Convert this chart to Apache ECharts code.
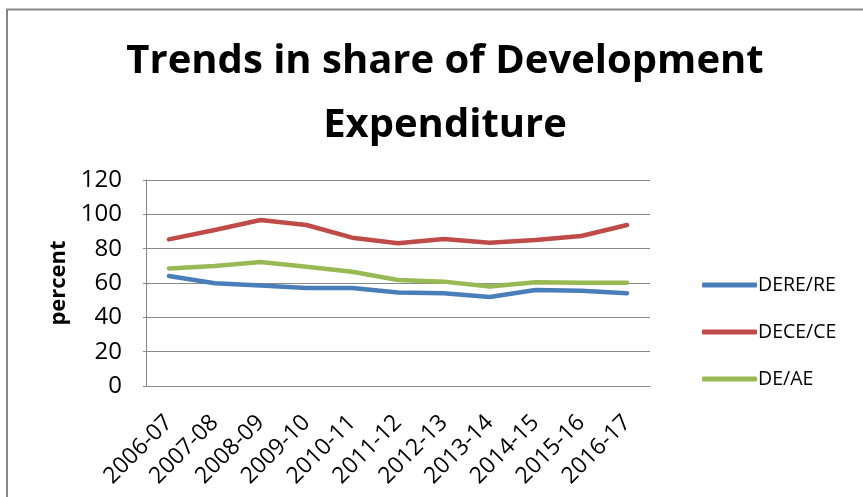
<!DOCTYPE html>
<html><head><meta charset="utf-8">
<script src="https://cdn.jsdelivr.net/npm/echarts@6/dist/echarts.min.js"></script>
<style>html,body{margin:0;padding:0;background:#fff}#c{width:863px;height:497px}</style>
</head><body><div id="c"></div>
<script>
const categories = ['2006-07','2007-08','2008-09','2009-10','2010-11','2011-12','2012-13','2013-14','2014-15','2015-16','2016-17'];
const dereRe = [64.1, 59.8, 58.6, 57.1, 57.1, 54.4, 54.0, 51.8, 55.9, 55.5, 54.0];
const deceCe = [85.4, 90.9, 96.7, 93.8, 86.4, 83.1, 85.6, 83.5, 85.0, 87.4, 93.8];
const deAe = [68.5, 69.9, 72.2, 69.5, 66.6, 61.7, 60.8, 57.9, 60.4, 60.2, 60.2];
const seriesNames = ['DERE/RE','DECE/CE','DE/AE'];
const colors = ['#4a7ebb','#be4b48','#98b954'];
const FONT = '"Open Sans", "Liberation Sans", sans-serif';
const chart = echarts.init(document.getElementById('c'));
chart.setOption({
  animation:false,
  graphic:[{type:'polyline',shape:{points:[[7,497],[7,9.5],[863,9.5]]},style:{fill:'none',stroke:'#888',lineWidth:2},silent:true}],
  title:{text:'Trends in share of Development\nExpenditure',left:440,textAlign:'center',top:25,
    textStyle:{fontFamily:FONT,fontWeight:'bold',fontSize:40,lineHeight:64,color:'#000'}},
  legend:{orient:'vertical',left:697,top:270,itemWidth:55,itemHeight:5,itemGap:27,
    icon:'roundRect',
    textStyle:{fontFamily:FONT,fontSize:19.5,lineHeight:20,color:'#000',padding:[0,0,0,-4]},
    data:seriesNames},
  grid:{left:146,top:180,width:504,height:206,containLabel:false},
  xAxis:{type:'category',data:categories,boundaryGap:true,
    axisLine:{lineStyle:{color:'#888',width:1}},axisTick:{show:false},
    axisLabel:{rotate:45,fontFamily:FONT,fontSize:23,color:'#000',margin:33,interval:0}},
  yAxis:{type:'value',min:0,max:120,interval:20,name:'percent',nameLocation:'middle',nameGap:74,
    nameTextStyle:{fontFamily:FONT,fontWeight:'bold',fontSize:22,color:'#000'},
    axisLine:{show:true,lineStyle:{color:'#888'}},axisTick:{show:true,length:3,lineStyle:{color:'#888'}},
    splitLine:{lineStyle:{color:'#888',width:1}},
    axisLabel:{fontFamily:FONT,fontSize:24,color:'#000',margin:24}},
  series:[dereRe,deceCe,deAe].map((d,i)=>({name:seriesNames[i],type:'line',data:d,showSymbol:false,
    lineStyle:{width:4.5,color:colors[i],cap:'round',join:'round'},itemStyle:{color:colors[i]}}))
});
</script></body></html>
